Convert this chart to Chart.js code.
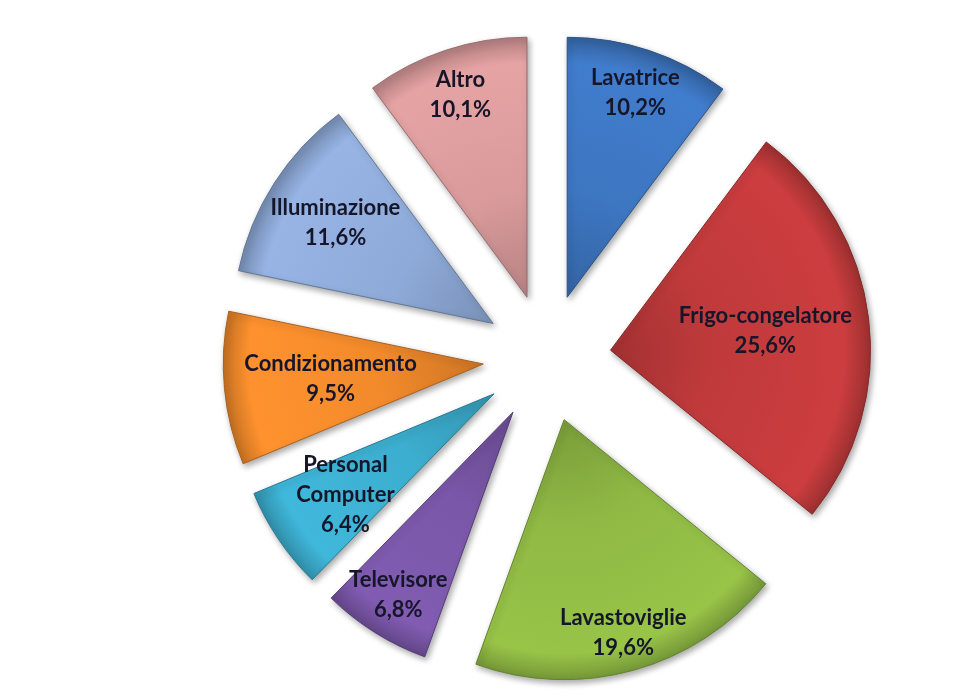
<!DOCTYPE html>
<html>
<head>
<meta charset="utf-8">
<title>Consumi elettrici domestici</title>
<script src="https://cdn.jsdelivr.net/npm/chart.js@4"></script>
<style>
  html, body { margin: 0; padding: 0; background: #fff; }
  #wrap { width: 960px; height: 700px; }
</style>
</head>
<body>
<div id="wrap"><canvas id="consumi" width="960" height="700"></canvas></div>
<script>
const categories = ['Lavatrice', 'Frigo-congelatore', 'Lavastoviglie', 'Televisore', 'Personal Computer', 'Condizionamento', 'Illuminazione', 'Altro'];
const shares = [10.2, 25.6, 19.6, 6.8, 6.4, 9.5, 11.6, 10.1];

const sliceColors = ['#3d76c1', '#c03a3b', '#8fb944', '#7a57a8', '#3caecf', '#f28a2b', '#8eaad8', '#d99a9b'];
// where each label sits along its slice, as a fraction of the radius
const labelDepth = [0.83, 0.6, 0.85, 0.83, 0.69, 0.59, 0.72, 0.82];

const RADIUS = 260;
const EXPLODE = 64;

function shade(hex, f) {
  const n = parseInt(hex.slice(1), 16);
  const c = [(n >> 16) & 255, (n >> 8) & 255, n & 255].map(v => Math.max(0, Math.min(255, Math.round(v * f))));
  return 'rgb(' + c.join(',') + ')';
}

function sliceFill(context) {
  const base = sliceColors[context.dataIndex];
  const area = context.chart.chartArea;
  if (!area) return base;
  const cx = (area.left + area.right) / 2;
  const cy = (area.top + area.bottom) / 2;
  const g = context.chart.ctx.createRadialGradient(cx, cy, 0, cx, cy, RADIUS);
  g.addColorStop(0, shade(base, 0.85));
  g.addColorStop(0.4, base);
  g.addColorStop(0.9, shade(base, 1.06));
  g.addColorStop(1, shade(base, 0.82));
  return g;
}

// pulls every slice outward along its middle angle, with a soft drop shadow
const explodedSlices = {
  id: 'explodedSlices',
  beforeDatasetDraw(chart, args) {
    const ctx = chart.ctx;
    args.meta.data.forEach(arc => {
      const mid = (arc.startAngle + arc.endAngle) / 2;
      ctx.save();
      ctx.translate(Math.cos(mid) * EXPLODE, Math.sin(mid) * EXPLODE);
      ctx.shadowColor = 'rgba(0,0,0,0.35)';
      ctx.shadowBlur = 6;
      ctx.shadowOffsetX = 2;
      ctx.shadowOffsetY = 3;
      arc.draw(ctx);
      ctx.restore();
    });
    return false;
  },
  afterDatasetsDraw(chart) {
    const ctx = chart.ctx;
    const meta = chart.getDatasetMeta(0);
    ctx.save();
    ctx.font = 'bold 22px Lato';
    ctx.fillStyle = '#16162a';
    ctx.textAlign = 'center';
    ctx.textBaseline = 'middle';
    meta.data.forEach((arc, i) => {
      const mid = (arc.startAngle + arc.endAngle) / 2;
      const r = EXPLODE + labelDepth[i] * RADIUS;
      const x = arc.x + Math.cos(mid) * r;
      const y = arc.y + Math.sin(mid) * r;
      const lines = categories[i].split(' ');
      lines.push(shares[i].toFixed(1).replace('.', ',') + '%');
      const lh = 30;
      const top = y - (lines.length - 1) * lh / 2;
      lines.forEach((t, k) => ctx.fillText(t, x, top + k * lh));
    });
    ctx.restore();
  }
};

new Chart(document.getElementById('consumi'), {
  type: 'pie',
  data: {
    labels: categories,
    datasets: [{
      data: shares,
      backgroundColor: sliceFill,
      borderColor: sliceColors.map(c => shade(c, 0.7)),
      borderWidth: 1
    }]
  },
  options: {
    responsive: false,
    animation: false,
    radius: RADIUS,
    layout: { padding: { left: 134, right: 0, top: 16, bottom: 0 } },
    plugins: {
      legend: { display: false },
      tooltip: { enabled: false }
    }
  },
  plugins: [explodedSlices]
});
</script>
</body>
</html>
